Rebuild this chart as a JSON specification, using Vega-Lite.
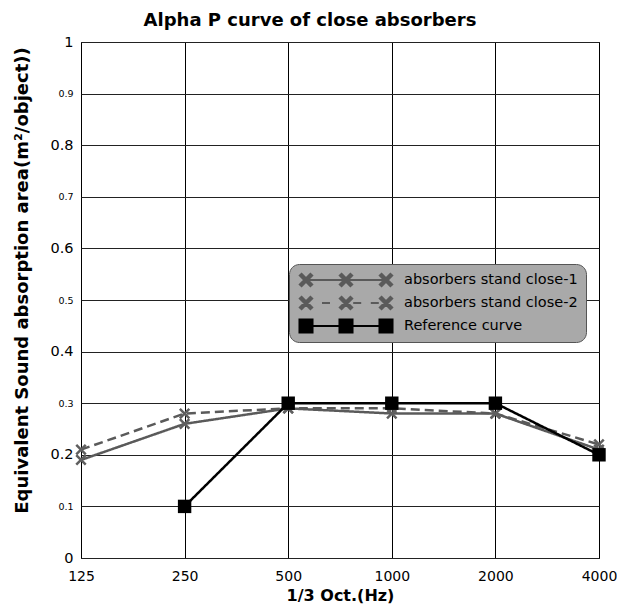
{
  "$schema": "https://vega.github.io/schema/vega-lite/v6.json",
  "width": 518,
  "height": 516,
  "autosize": {"type": "none"},
  "padding": {"left": 81, "top": 42, "right": 18, "bottom": 57},
  "config": {
    "font": "DejaVu Sans",
    "view": {"stroke": "#000", "strokeWidth": 1}
  },
  "title": {
    "text": "Alpha P curve of close absorbers",
    "fontSize": 18,
    "fontWeight": "bold",
    "color": "#000",
    "anchor": "middle",
    "offset": 4,
    "dx": -30
  },
  "data": {
    "values": [
      {"freq": 125, "value": 0.19, "series": "absorbers stand close-1"},
      {"freq": 250, "value": 0.26, "series": "absorbers stand close-1"},
      {"freq": 500, "value": 0.29, "series": "absorbers stand close-1"},
      {"freq": 1000, "value": 0.28, "series": "absorbers stand close-1"},
      {"freq": 2000, "value": 0.28, "series": "absorbers stand close-1"},
      {"freq": 4000, "value": 0.21, "series": "absorbers stand close-1"},
      {"freq": 125, "value": 0.21, "series": "absorbers stand close-2"},
      {"freq": 250, "value": 0.28, "series": "absorbers stand close-2"},
      {"freq": 500, "value": 0.29, "series": "absorbers stand close-2"},
      {"freq": 1000, "value": 0.29, "series": "absorbers stand close-2"},
      {"freq": 2000, "value": 0.28, "series": "absorbers stand close-2"},
      {"freq": 4000, "value": 0.22, "series": "absorbers stand close-2"},
      {"freq": 250, "value": 0.1, "series": "Reference curve"},
      {"freq": 500, "value": 0.3, "series": "Reference curve"},
      {"freq": 1000, "value": 0.3, "series": "Reference curve"},
      {"freq": 2000, "value": 0.3, "series": "Reference curve"},
      {"freq": 4000, "value": 0.2, "series": "Reference curve"}
    ]
  },
  "encoding": {
    "x": {
      "field": "freq",
      "type": "quantitative",
      "scale": {"type": "log", "base": 2, "domain": [125, 4000], "nice": false},
      "axis": {
        "title": "1/3 Oct.(Hz)",
        "values": [125, 250, 500, 1000, 2000, 4000],
        "format": "d",
        "labelFontSize": 14,
        "labelColor": "#000",
        "labelPadding": 11,
        "labelFlush": false,
        "labelOverlap": false,
        "ticks": false,
        "domain": false,
        "grid": true,
        "gridColor": "#000",
        "gridOpacity": 1,
        "gridWidth": 1,
        "titleFontSize": 16,
        "titleFontWeight": "bold",
        "titleColor": "#000",
        "titlePadding": 4
      }
    },
    "y": {
      "field": "value",
      "type": "quantitative",
      "scale": {"domain": [0, 1], "nice": false, "zero": true},
      "axis": {
        "title": "Equivalent Sound absorption area(m²/object))",
        "values": [0, 0.1, 0.2, 0.3, 0.4, 0.5, 0.6, 0.7, 0.8, 0.9, 1],
        "format": ".1~f",
        "labelFontSize": {"condition": {"test": "round(datum.value*10) % 2 == 1", "value": 9.5}, "value": 14.5},
        "labelColor": "#000",
        "labelPadding": 8,
        "labelFlush": false,
        "labelOverlap": false,
        "ticks": false,
        "domain": false,
        "grid": true,
        "gridColor": "#222",
        "gridOpacity": 1,
        "gridWidth": 1,
        "titleFontSize": 18,
        "titleFontWeight": "bold",
        "titleColor": "#000",
        "titlePadding": 18,
        "titleY": 238
      }
    }
  },
  "layer": [
    {
      "mark": {"type": "line", "strokeWidth": 2.5},
      "encoding": {
        "color": {
          "field": "series",
          "type": "nominal",
          "scale": {
            "domain": ["absorbers stand close-1", "absorbers stand close-2", "Reference curve"],
            "range": ["#5a5a5a", "#5a5a5a", "#000000"]
          },
          "legend": {
            "orient": "none",
            "legendX": 208,
            "legendY": 222,
            "title": null,
            "fillColor": "#a9a9a9",
            "strokeColor": "#555555",
            "cornerRadius": 10,
            "padding": 8,
            "labelFontSize": 14.5,
            "labelColor": "#000",
            "labelLimit": 300,
            "symbolOffset": 41,
            "labelOffset": 50,
            "rowPadding": 7,
            "encode": {
              "symbols": {
                "update": {
                  "shape": {"signal": "datum.value === 'absorbers stand close-1' ? 'M-5,-0.13L5,-0.13L5,0.13L-5,0.13Z M-5.55,-0.95L-4.05,0.55L-4.45,0.95L-5.95,-0.55Z M-5.95,0.55L-4.45,-0.95L-4.05,-0.55L-5.55,0.95Z M-0.55,-0.95L0.95,0.55L0.55,0.95L-0.95,-0.55Z M-0.95,0.55L0.55,-0.95L0.95,-0.55L-0.55,0.95Z M4.45,-0.95L5.95,0.55L5.55,0.95L4.05,-0.55Z M4.05,0.55L5.55,-0.95L5.95,-0.55L4.45,0.95Z' : datum.value === 'absorbers stand close-2' ? 'M-3,-0.13L-2,-0.13L-2,0.13L-3,0.13Z M0.9,-0.13L1.9,-0.13L1.9,0.13L0.9,0.13Z M3.1,-0.13L4.1,-0.13L4.1,0.13L3.1,0.13Z M-5.55,-0.95L-4.05,0.55L-4.45,0.95L-5.95,-0.55Z M-5.95,0.55L-4.45,-0.95L-4.05,-0.55L-5.55,0.95Z M-0.55,-0.95L0.95,0.55L0.55,0.95L-0.95,-0.55Z M-0.95,0.55L0.55,-0.95L0.95,-0.55L-0.55,0.95Z M4.45,-0.95L5.95,0.55L5.55,0.95L4.05,-0.55Z M4.05,0.55L5.55,-0.95L5.95,-0.55L4.45,0.95Z' : 'M-5,-0.13L5,-0.13L5,0.13L-5,0.13Z M-5.94,-0.94L-4.06,-0.94L-4.06,0.94L-5.94,0.94Z M-0.94,-0.94L0.94,-0.94L0.94,0.94L-0.94,0.94Z M4.06,-0.94L5.94,-0.94L5.94,0.94L4.06,0.94Z'"},
                  "size": {"value": 256},
                  "fill": {"signal": "datum.value === 'Reference curve' ? '#000000' : '#5a5a5a'"},
                  "fillOpacity": {"value": 1},
                  "opacity": {"value": 1},
                  "stroke": {"value": "transparent"},
                  "strokeWidth": {"value": 0},
                  "strokeDash": {"value": [1, 0]}
                }
              }
            }
          }
        },
        "strokeDash": {
          "field": "series",
          "type": "nominal",
          "scale": {
            "domain": ["absorbers stand close-1", "absorbers stand close-2", "Reference curve"],
            "range": [[1, 0], [9, 5], [1, 0]]
          },
          "legend": null
        }
      }
    },
    {
      "transform": [{"filter": "datum.series !== 'Reference curve'"}],
      "mark": {
        "type": "point",
        "shape": "M-1,-1L1,1M-1,1L1,-1",
        "filled": false,
        "stroke": "#5f5f5f",
        "strokeWidth": 2.5,
        "size": 90,
        "opacity": 1
      }
    },
    {
      "transform": [{"filter": "datum.series === 'Reference curve'"}],
      "mark": {
        "type": "square",
        "filled": true,
        "color": "#000",
        "size": 180,
        "opacity": 1
      }
    }
  ]
}
